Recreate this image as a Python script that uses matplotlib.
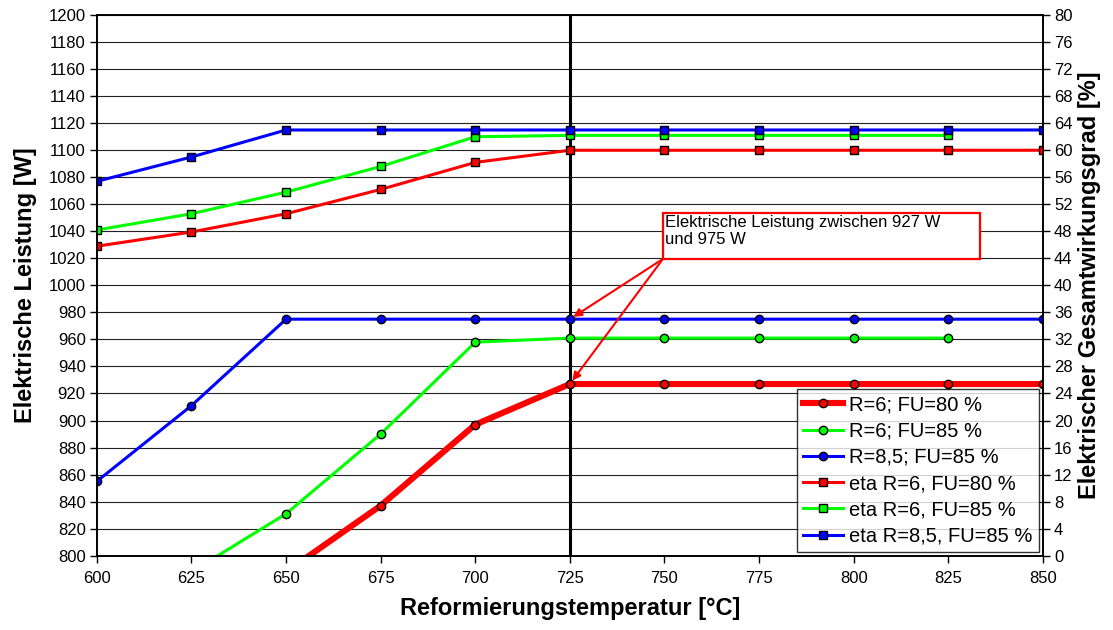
import numpy as np
import matplotlib
matplotlib.use("Agg")
from matplotlib import pyplot as plt
from matplotlib.patches import Rectangle

plt.rcParams['font.family'] = ['Liberation Sans', 'DejaVu Sans']

# Reformierungstemperatur [°C]
temps = [600, 625, 650, 675, 700, 725, 750, 775, 800, 825, 850]

# elektrische Leistung [W] (linke Achse)
p_r6_fu80 = [700, 745, 788, 837, 897, 927, 927, 927, 927, 927, 927]
p_r6_fu85 = [745, 788, 831, 890, 958, 961, 961, 961, 961, 961]
p_r85_fu85 = [855, 911, 975, 975, 975, 975, 975, 975, 975, 975, 975]

# elektrischer Gesamtwirkungsgrad [%] (rechte Achse)
eta_r6_fu80 = [45.8, 47.9, 50.6, 54.2, 58.2, 60.0, 60.0, 60.0, 60.0, 60.0, 60.0]
eta_r6_fu85 = [48.2, 50.6, 53.8, 57.6, 62.0, 62.2, 62.2, 62.2, 62.2, 62.2]
eta_r85_fu85 = [55.4, 59.0, 63.0, 63.0, 63.0, 63.0, 63.0, 63.0, 63.0, 63.0, 63.0]

fig = plt.figure(figsize=(11.13, 6.3), dpi=100)
ax = fig.add_axes([0.087, 0.118, 0.850, 0.858])
ax2 = ax.twinx()

red = '#ff0000'
green = '#00ff00'
blue = '#0000ff'

ck = dict(markeredgecolor='black', markeredgewidth=1.0, markersize=6)
sk = dict(markeredgecolor='black', markeredgewidth=1.0, markersize=6.3)

# Wirkungsgrad (Quadrate) auf der rechten Achse
s1, = ax2.plot(temps, eta_r6_fu80, '-s', color=red, lw=2.2, markerfacecolor=red, **sk)
s2, = ax2.plot(temps[:10], eta_r6_fu85, '-s', color=green, lw=2.2, markerfacecolor=green, **sk)
s3, = ax2.plot(temps, eta_r85_fu85, '-s', color=blue, lw=2.2, markerfacecolor=blue, **sk)

# Leistung (Kreise) auf der linken Achse
l1, = ax.plot(temps, p_r6_fu80, '-o', color=red, lw=4.4, markerfacecolor=red, **ck)
l2, = ax.plot(temps[:10], p_r6_fu85, '-o', color=green, lw=2.2, markerfacecolor=green, **ck)
l3, = ax.plot(temps, p_r85_fu85, '-o', color=blue, lw=2.2, markerfacecolor=blue, **ck)

ax.set_xlim(600, 850)
ax.set_ylim(800, 1200)
ax.set_xticks(range(600, 851, 25))
ax.set_yticks(range(800, 1201, 20))
ax2.set_ylim(0, 80)
ax2.set_yticks(range(0, 81, 4))

ax.grid(axis='y', color='#222222', lw=0.8)
ax.set_axisbelow(True)
ax.axvline(725, color='black', lw=2.2, zorder=1)

for a in (ax, ax2):
    a.tick_params(labelsize=12, direction='out', length=5, width=1, pad=3)
    for sp in a.spines.values():
        sp.set_linewidth(1.2)
ax.tick_params(axis='x', pad=6)

ax.set_xlabel('Reformierungstemperatur [°C]', fontsize=17, fontweight='bold', labelpad=8)
ax.set_ylabel('Elektrische Leistung [W]', fontsize=17, fontweight='bold', labelpad=8)
ax2.set_ylabel('Elektrischer Gesamtwirkungsgrad [%]', fontsize=17, fontweight='bold', labelpad=4)

# Hinweisbox mit Pfeilen auf die beiden Leistungswerte bei 725 °C
bx0, by0, bx1, by1 = 749.6, 1019.6, 833.4, 1053.6
ax.add_patch(Rectangle((bx0, by0), bx1 - bx0, by1 - by0, fc='white', ec=red,
                       lw=1.6, zorder=6))
ax.text(bx0 + 0.6, by1 - 1.5, 'Elektrische Leistung zwischen 927 W\nund 975 W',
        fontsize=12, va='top', ha='left', zorder=7, linespacing=1.15)
for target in (975, 927):
    ax.annotate('', xy=(725, target), xytext=(bx0, by0), zorder=6,
                arrowprops=dict(arrowstyle='-|>', color=red, lw=1.5,
                                mutation_scale=12, shrinkA=0, shrinkB=3))

handles = [l1, l2, l3, s1, s2, s3]
labels = ['R=6; FU=80 %', 'R=6; FU=85 %', 'R=8,5; FU=85 %',
          'eta R=6, FU=80 %', 'eta R=6, FU=85 %', 'eta R=8,5, FU=85 %']
leg = ax2.legend(handles, labels, loc='lower right', fontsize=14.5, frameon=True,
                 fancybox=False, edgecolor='black', handlelength=2.0,
                 borderaxespad=0.2, labelspacing=0.36, handletextpad=0.3,
                 borderpad=0.3)
leg.get_frame().set_linewidth(1.0)
leg.set_zorder(10)

plt.savefig('out.png', dpi=100)
